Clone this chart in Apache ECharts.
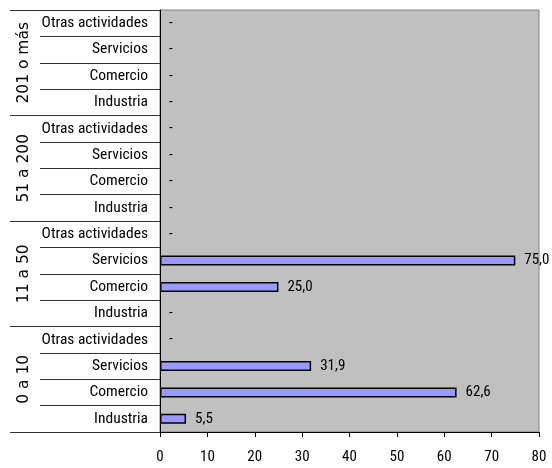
<!DOCTYPE html>
<html><head><meta charset="utf-8">
<script src="https://cdn.jsdelivr.net/npm/echarts@6/dist/echarts.min.js"></script>
<style>html,body{margin:0;padding:0;background:#fff}#c{width:552px;height:468px}</style>
</head><body><div id="c"></div>
<script>
const groups = ['0 a 10', '11 a 50', '51 a 200', '201 o más'];
const activities = ['Industria', 'Comercio', 'Servicios', 'Otras actividades'];
const values0a10 = [5.5, 62.6, 31.9, 0];
const values11a50 = [0, 25.0, 75.0, 0];
const values51a200 = [0, 0, 0, 0];
const values201omas = [0, 0, 0, 0];
const xTicks = [0, 10, 20, 30, 40, 50, 60, 70, 80];

const cats = [];
groups.forEach(() => activities.forEach(a => cats.push(a)));
const vals = [].concat(values0a10, values11a50, values51a200, values201omas);
const barData = vals.map(v => v === 0 ? {value: v, itemStyle: {borderWidth: 0}} : {value: v});

const narrow = '"Liberation Sans Narrow", "Arial Narrow", "Roboto Condensed", sans-serif';
const chart = echarts.init(document.getElementById('c'), null, {renderer: 'canvas'});
chart.setOption({
  animation: false,
  grid: {left: 160, right: 13, top: 10, bottom: 36, show: true, backgroundColor: '#C0C0C0', borderColor: '#808080', borderWidth: 1},
  xAxis: {
    type: 'value', min: xTicks[0], max: xTicks[xTicks.length - 1], interval: 10,
    splitLine: {show: false},
    axisLine: {show: true, lineStyle: {color: '#000', width: 1}},
    axisTick: {show: true, length: 5, lineStyle: {color: '#000'}},
    axisLabel: {color: '#000', fontFamily: narrow, fontSize: 15, margin: 18}
  },
  yAxis: [{
    type: 'category', data: cats, position: 'left',
    axisLine: {show: true, lineStyle: {color: '#000', width: 1}},
    axisTick: {show: true, interval: 0, length: 120, lineStyle: {color: '#333'}},
    axisLabel: {interval: 0, color: '#000', fontFamily: narrow, fontSize: 15.5, margin: 12}
  }, {
    type: 'category', data: groups, position: 'left',
    axisLine: {show: false},
    axisTick: {show: true, interval: 0, length: 150, lineStyle: {color: '#333'}},
    axisLabel: {interval: 0, rotate: 90, color: '#000', fontFamily: '"DejaVu Sans", Verdana, sans-serif', fontSize: 15.5, margin: 128}
  }],
  series: [{
    type: 'bar', yAxisIndex: 0, data: barData, barWidth: 10,
    itemStyle: {color: '#9999FF', borderColor: '#000', borderWidth: 1.5},
    label: {
      show: true, position: 'right', distance: 9, color: '#000', fontFamily: narrow, fontSize: 15,
      formatter: p => p.value === 0 ? '-' : p.value.toFixed(1).replace('.', ',')
    }
  }]
});
</script></body></html>
